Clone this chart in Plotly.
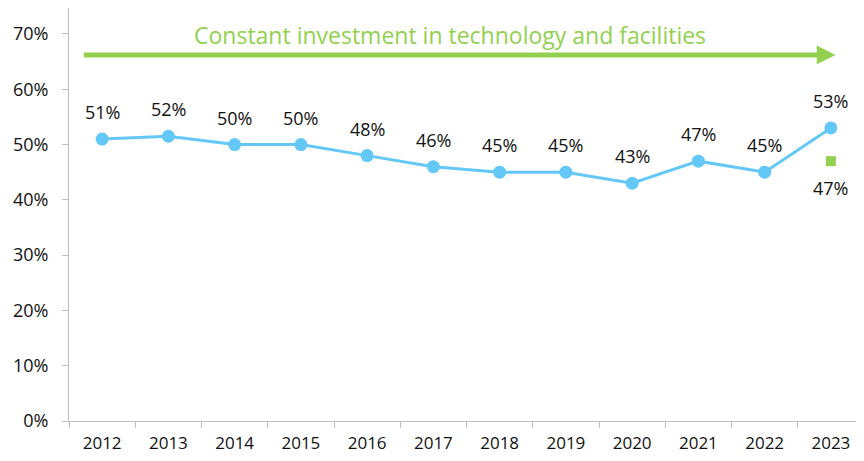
import plotly.graph_objects as go

years = ["2012", "2013", "2014", "2015", "2016", "2017", "2018", "2019", "2020", "2021", "2022", "2023"]
share = [51, 51.5, 50, 50, 48, 46, 45, 45, 43, 47, 45, 53]
share_labels = ["51%", "52%", "50%", "50%", "48%", "46%", "45%", "45%", "43%", "47%", "45%", "53%"]
alt_year = ["2023"]
alt_value = [47]
alt_labels = ["47%"]
y_ticks = [0, 10, 20, 30, 40, 50, 60, 70]
banner_text = "Constant investment in technology and facilities"

blue = "#63C8F7"
green = "#92D050"
font_family = "Open Sans, Liberation Sans, sans-serif"

fig = go.Figure()
fig.add_trace(go.Scatter(
    x=years, y=share, mode="lines+markers",
    line=dict(color=blue, width=3),
    marker=dict(color=blue, size=13),
    hoverinfo="skip", showlegend=False,
))
fig.add_trace(go.Scatter(
    x=alt_year, y=alt_value, mode="markers",
    marker=dict(color=green, size=10, symbol="square"),
    hoverinfo="skip", showlegend=False,
))

for x, y, t in zip(years, share, share_labels):
    fig.add_annotation(x=years.index(x), y=y, xref="x", yref="y", text=t, showarrow=False, yshift=27,
                       font=dict(size=18, color="#111111", family=font_family))
for x, y, t in zip(alt_year, alt_value, alt_labels):
    fig.add_annotation(x=years.index(x), y=y, xref="x", yref="y", text=t, showarrow=False, yshift=-27,
                       font=dict(size=18, color="#111111", family=font_family))

# banner arrow
fig.add_annotation(
    x=11.07, y=66.2, ax=-0.3, ay=66.2, xref="x", yref="y", axref="x", ayref="y",
    showarrow=True, arrowhead=2, arrowsize=0.75, arrowwidth=5, arrowcolor=green, text="",
)
fig.add_annotation(
    x=5.25, y=69.9, xref="x", yref="y", text=banner_text, showarrow=False,
    font=dict(size=23, color=green, family=font_family),
)

fig.update_layout(
    width=856, height=453,
    margin=dict(l=61, r=0, t=0, b=40),
    paper_bgcolor="white", plot_bgcolor="white",
    font=dict(family=font_family, color="#111111"),
)
fig.update_xaxes(
    type="category", range=[-0.5, 11.5],
    showline=True, linecolor="#BFBFBF", linewidth=1,
    ticks="outside", tickson="boundaries", ticklen=6, tickcolor="#BFBFBF",
    showgrid=False, zeroline=False, ticklabelstandoff=7,
    tickfont=dict(size=17, color="#111111"),
)
fig.update_yaxes(
    range=[0, 74.7], tickmode="array", tickvals=y_ticks,
    ticktext=[f"{v}%" for v in y_ticks],
    showline=True, linecolor="#BFBFBF", linewidth=1,
    ticks="outside", ticklen=6, tickcolor="#BFBFBF",
    showgrid=False, zeroline=False, ticklabelstandoff=10,
    tickfont=dict(size=18, color="#111111"),
)

fig.write_html("out.html")
